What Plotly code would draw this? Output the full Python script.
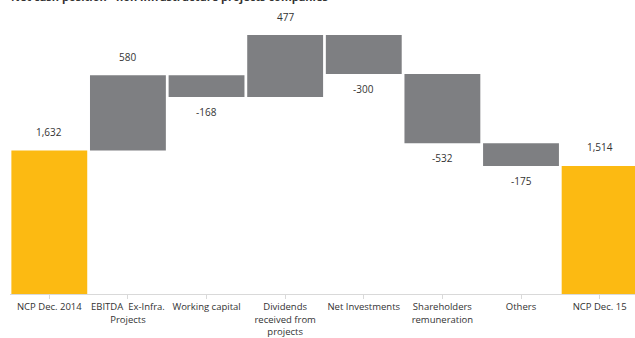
import plotly.graph_objects as go

CATEGORIES = [
    "NCP Dec. 2014",
    "EBITDA  Ex-Infra.<br>Projects",
    "Working capital",
    "Dividends<br>received from<br>projects",
    "Net Investments",
    "Shareholders<br>remuneration",
    "Others",
    "NCP Dec. 15",
]
START_TOTAL = 1632
DELTAS = [580, -168, 477, -300, -532, -175]
END_TOTAL = 1514

YELLOW = "#FCBA12"
GREY = "#7E7F82"
TEXT = "#333333"
FONT = "Open Sans"

# running levels between steps
levels = [START_TOTAL]
for d in DELTAS:
    levels.append(levels[-1] + d)

x = list(range(len(CATEGORIES)))

# totals start at zero (axis is cut like the original slide), steps float
heights = [START_TOTAL] + [abs(d) for d in DELTAS] + [END_TOTAL]
bases = [0] + [min(levels[i], levels[i + 1]) for i in range(len(DELTAS))] + [0]
colors = [YELLOW] + [GREY] * len(DELTAS) + [YELLOW]

fig = go.Figure(go.Bar(
    x=x,
    y=heights,
    base=bases,
    marker=dict(color=colors, line=dict(width=0)),
    hoverinfo="skip",
))

annotations = []
for xi, val in ((x[0], START_TOTAL), (x[-1], END_TOTAL)):
    annotations.append(dict(
        x=xi, y=val, text=f"{val:,}", showarrow=False,
        yanchor="bottom", yshift=10,
    ))
for i, d in enumerate(DELTAS):
    if d >= 0:
        annotations.append(dict(
            x=x[i + 1], y=levels[i + 1], text=f"{d}", showarrow=False,
            yanchor="bottom", yshift=9,
        ))
    else:
        annotations.append(dict(
            x=x[i + 1], y=levels[i + 1], text=f"{d}", showarrow=False,
            yanchor="top", yshift=-6,
        ))
for a in annotations:
    a["font"] = dict(family=FONT, size=10, color=TEXT)

# slide title, mostly cropped off the top edge
annotations.append(dict(
    xref="paper", yref="paper", x=0, y=1, xanchor="left", yanchor="bottom",
    xshift=-1, yshift=-6, showarrow=False,
    text="<b>Net cash position - non infrastructure projects companies</b>",
    font=dict(family=FONT, size=11, color=TEXT),
))

fig.update_layout(
    width=635,
    height=338,
    margin=dict(l=10, r=0, t=0, b=44),
    paper_bgcolor="white",
    plot_bgcolor="white",
    showlegend=False,
    bargap=0.035,
    annotations=annotations,
    font=dict(family=FONT, size=9, color=TEXT),
    xaxis=dict(
        tickmode="array",
        tickvals=x,
        ticktext=CATEGORIES,
        range=[-0.5, 7.45],
        showgrid=False,
        zeroline=False,
        showline=True,
        linecolor="#D9D9D9",
        linewidth=1,
        ticks="outside",
        tickson="boundaries",
        ticklen=4,
        tickcolor="#D9D9D9",
        tickfont=dict(family=FONT, size=9.5, color=TEXT),
        automargin=False,
    ),
    yaxis=dict(
        range=[529, 2790],
        visible=False,
        showgrid=False,
        zeroline=False,
    ),
)

fig.write_html(
    "out.html",
    config={"displayModeBar": False},
    post_script="document.body.style.margin = '0';",
)
